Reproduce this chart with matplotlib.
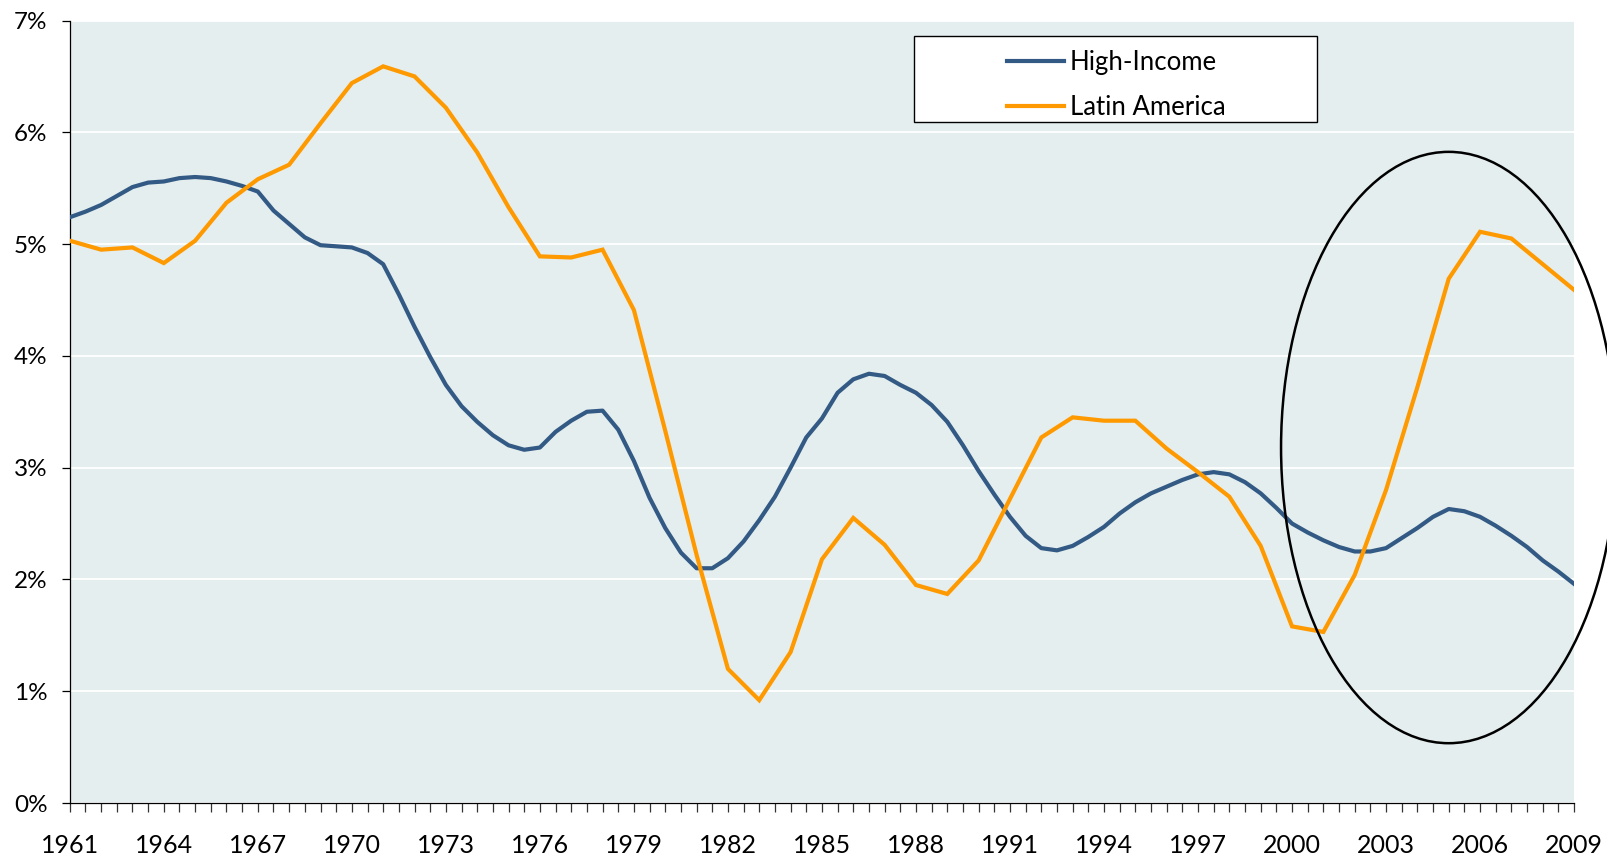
import numpy as np
import matplotlib
matplotlib.use("Agg")
import matplotlib.pyplot as plt
from matplotlib.patches import Ellipse, Rectangle
from matplotlib.ticker import FuncFormatter, MultipleLocator

plt.rcParams["font.family"] = ["Lato", "DejaVu Sans"]

# ── Data (percent) ─────────────────────────────────────────────────────────
years = list(range(1961, 2010))
latin_america = [
    5.03, 4.95, 4.97, 4.83, 5.03, 5.37, 5.58, 5.71, 6.08, 6.44,   # 1961-70
    6.59, 6.50, 6.22, 5.82, 5.33, 4.89, 4.88, 4.95, 4.41, 3.33,   # 1971-80
    2.22, 1.20, 0.92, 1.35, 2.18, 2.55, 2.31, 1.95, 1.87, 2.17,   # 1981-90
    2.72, 3.27, 3.45, 3.42, 3.42, 3.17, 2.96, 2.74, 2.30, 1.58,   # 1991-2000
    1.53, 2.04, 2.80, 3.72, 4.69, 5.11, 5.05, 4.82, 4.59,         # 2001-09
]

# high-income series is half-yearly
half_years = [1961 + 0.5 * i for i in range(97)]
high_income = [
    5.24, 5.29, 5.35, 5.43, 5.51, 5.55, 5.56, 5.59, 5.60, 5.59,   # 1961-65.5
    5.56, 5.52, 5.47, 5.30, 5.18, 5.06, 4.99, 4.98, 4.97, 4.92,   # 1966-70.5
    4.82, 4.55, 4.26, 3.99, 3.74, 3.55, 3.41, 3.29, 3.20, 3.16,   # 1971-75.5
    3.18, 3.32, 3.42, 3.50, 3.51, 3.34, 3.06, 2.73, 2.46, 2.24,   # 1976-80.5
    2.10, 2.10, 2.19, 2.34, 2.53, 2.74, 3.00, 3.27, 3.44, 3.67,   # 1981-85.5
    3.79, 3.84, 3.82, 3.74, 3.67, 3.56, 3.41, 3.20, 2.97, 2.76,   # 1986-90.5
    2.56, 2.39, 2.28, 2.26, 2.30, 2.38, 2.47, 2.59, 2.69, 2.77,   # 1991-95.5
    2.83, 2.89, 2.94, 2.96, 2.94, 2.87, 2.77, 2.64, 2.50, 2.42,   # 1996-2000.5
    2.35, 2.29, 2.25, 2.25, 2.28, 2.37, 2.46, 2.56, 2.63, 2.61,   # 2001-05.5
    2.56, 2.48, 2.39, 2.29, 2.17, 2.07, 1.96,                     # 2006-09
]
label_years = list(range(1961, 2010, 3))

BLUE = "#335A84"
ORANGE = "#FF9900"
BG = "#E4EEEF"

fig = plt.figure(figsize=(16.08, 8.58), dpi=100)
ax = fig.add_axes([0.0434, 0.0641, 0.9355, 0.912])
ax.set_facecolor(BG)

ax.plot(half_years, high_income, color=BLUE, lw=3, solid_joinstyle="round",
        label="High-Income", zorder=3)
ax.plot(years, latin_america, color=ORANGE, lw=3, solid_joinstyle="miter",
        label="Latin America", zorder=3)

ax.set_xlim(1961, 2009)
ax.set_ylim(0, 7)
ax.yaxis.set_major_locator(MultipleLocator(1))
ax.yaxis.set_major_formatter(FuncFormatter(lambda v, p: f"{v:.0f}%"))
ax.set_xticks(label_years)
ax.set_xticklabels([str(y) for y in label_years])
ax.xaxis.set_minor_locator(MultipleLocator(0.5))
ax.grid(axis="y", color="white", lw=1.3, zorder=1)
ax.set_axisbelow(True)

for s in ["top", "right"]:
    ax.spines[s].set_visible(False)
for s in ["left", "bottom"]:
    ax.spines[s].set_color("black")
    ax.spines[s].set_linewidth(0.9)

ax.tick_params(axis="y", direction="out", length=6, width=0.9, pad=10,
               labelsize=17.5, colors="black")
ax.tick_params(axis="x", which="both", direction="out", length=6.5, width=0.9,
               colors="#333333", labelcolor="black")
ax.tick_params(axis="x", which="major", pad=16, labelsize=18)

# Ellipse highlighting the 2000s
ax.add_patch(Ellipse((2005.0, 3.18), 10.7, 5.29, fill=False, edgecolor="black",
                     lw=1.8, clip_on=False, zorder=4))

# Legend: box drawn separately, entries right of centre like the original
ax.add_patch(Rectangle((0.5613, 0.8703), 0.2675, 0.110, transform=ax.transAxes,
                       facecolor="white", edgecolor="black", lw=1.0, zorder=5))
leg = ax.legend(loc="upper left", bbox_to_anchor=(0.6233, 0.962), frameon=False,
                fontsize=18.5, handlelength=2.2, handletextpad=0.22,
                labelspacing=0.75, borderpad=0, borderaxespad=0)
leg.set_zorder(6)

plt.savefig("out.png", dpi=100)
plt.close()
